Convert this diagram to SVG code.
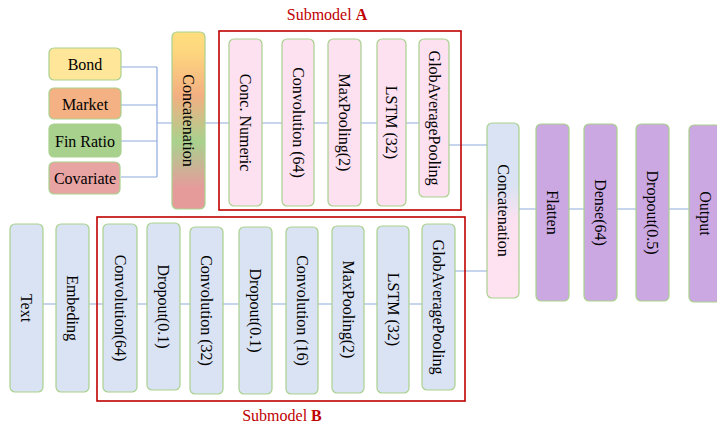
<svg xmlns="http://www.w3.org/2000/svg" width="717" height="428" viewBox="0 0 717 428">
<style>
.t{font-family:"Liberation Serif","Times New Roman",serif;font-size:16px;fill:#000;text-anchor:middle;dominant-baseline:central}
.b{stroke:#A9D18E;stroke-width:1.2}
.pk{fill:#FDE1F0}
.bl{fill:#DAE3F3}
.pu{fill:#CBA8E2}
.c{stroke:#8FAADC;stroke-width:1.2;fill:none}
.red{fill:none;stroke:#C00000;stroke-width:1.6}
.lbl{font-family:"Liberation Serif","Times New Roman",serif;font-size:16px;fill:#C00000;text-anchor:middle}
</style>
<defs>
<linearGradient id="g1" x1="0" y1="0" x2="0" y2="1">
<stop offset="0" stop-color="#FFDF7E"/>
<stop offset="0.12" stop-color="#FDD57E"/>
<stop offset="0.36" stop-color="#F3AF82"/>
<stop offset="0.62" stop-color="#A9D18E"/>
<stop offset="0.88" stop-color="#E69B9B"/>
<stop offset="1" stop-color="#E69B9B"/>
</linearGradient>
<linearGradient id="g2" x1="0" y1="0" x2="0" y2="1">
<stop offset="0" stop-color="#DAE3F3"/>
<stop offset="0.36" stop-color="#DAE3F3"/>
<stop offset="0.56" stop-color="#FDE1F0"/>
<stop offset="1" stop-color="#FFE2F0"/>
</linearGradient>
</defs>
<rect width="717" height="428" fill="#fff"/>

<g id="connectors">
<path class="c" d="M121 67H157M121 105H157M121 141H157M121 177H157M157 67V177M157 123H172"/>
<path class="c" d="M205 123H229M262 123H282M314 123H328M361 123H377M406 123H419M449 145H487"/>
<path class="c" d="M43 304H56M89 304H103M137 304H147M180 304H190M223 304H239M272 304H286M318 304H332M364 304H377M409 304H422M455 271H487"/>
<path class="c" d="M519 209H536M569 209H584M617 209H636M669 209H689"/>
</g>

<g id="submodelA">
<rect class="red" x="219" y="31" width="242" height="179"/>
<text class="lbl" x="327" y="20">Submodel <tspan font-weight="bold">A</tspan></text>
</g>
<g id="submodelB">
<rect class="red" x="97" y="217" width="368" height="184"/>
<text class="lbl" x="282" y="421">Submodel <tspan font-weight="bold">B</tspan></text>
</g>

<g id="bond"><rect class="b" x="49" y="48" width="72" height="32" rx="5" fill="#FFE699"/><text class="t" x="85" y="64">Bond</text></g>
<g id="market"><rect class="b" x="49" y="88" width="72" height="31" rx="5" fill="#F4B183"/><text class="t" x="85" y="104">Market</text></g>
<g id="finratio"><rect class="b" x="49" y="124" width="72" height="33" rx="5" fill="#A9D18E"/><text class="t" x="85" y="141">Fin Ratio</text></g>
<g id="covariate"><rect class="b" x="49" y="162" width="71" height="32" rx="5" fill="#E8A3A3"/><text class="t" x="85" y="178">Covariate</text></g>

<g id="concat1"><rect class="b" x="172" y="32" width="33" height="177" rx="5" fill="url(#g1)"/><text class="t" transform="translate(188.5,120.5) rotate(90)">Concatenation</text></g>

<g id="concnumeric"><rect class="b pk" x="229" y="39" width="33" height="167" rx="5"/><text class="t" transform="translate(245.5,122.5) rotate(90)">Conc. Numeric</text></g>
<g id="convA"><rect class="b pk" x="282" y="39" width="32" height="167" rx="5"/><text class="t" transform="translate(298,122.5) rotate(90)">Convolution (64)</text></g>
<g id="maxpoolA"><rect class="b pk" x="328" y="39" width="33" height="167" rx="5"/><text class="t" transform="translate(344.5,122.5) rotate(90)">MaxPooling(2)</text></g>
<g id="lstmA"><rect class="b pk" x="377" y="39" width="29" height="167" rx="5"/><text class="t" transform="translate(391.5,122.5) rotate(90)">LSTM (32)</text></g>
<g id="globA"><rect class="b pk" x="419" y="39" width="30" height="158" rx="5"/><text class="t" transform="translate(434,118) rotate(90)">GlobAveragePooling</text></g>

<g id="text"><rect class="b bl" x="10" y="224" width="33" height="168" rx="5"/><text class="t" transform="translate(26.5,308) rotate(90)">Text</text></g>
<g id="embeding"><rect class="b bl" x="56" y="224" width="33" height="168" rx="5"/><text class="t" transform="translate(72.5,308) rotate(90)">Embeding</text></g>
<g id="conv64"><rect class="b bl" x="103" y="224" width="34" height="168" rx="5"/><text class="t" transform="translate(120,308) rotate(90)">Convolution(64)</text></g>
<g id="drop1"><rect class="b bl" x="147" y="223" width="33" height="167" rx="5"/><text class="t" transform="translate(163.5,306.5) rotate(90)">Dropout(0.1)</text></g>
<g id="conv32"><rect class="b bl" x="190" y="227" width="33" height="167" rx="5"/><text class="t" transform="translate(206.5,310.5) rotate(90)">Convolution (32)</text></g>
<g id="drop2"><rect class="b bl" x="239" y="227" width="33" height="167" rx="5"/><text class="t" transform="translate(255.5,310.5) rotate(90)">Dropout(0.1)</text></g>
<g id="conv16"><rect class="b bl" x="286" y="227" width="32" height="167" rx="5"/><text class="t" transform="translate(302,310.5) rotate(90)">Convolution (16)</text></g>
<g id="maxpoolB"><rect class="b bl" x="332" y="226" width="32" height="167" rx="5"/><text class="t" transform="translate(348,309.5) rotate(90)">MaxPooling(2)</text></g>
<g id="lstmB"><rect class="b bl" x="377" y="226" width="32" height="167" rx="5"/><text class="t" transform="translate(393,309.5) rotate(90)">LSTM (32)</text></g>
<g id="globB"><rect class="b bl" x="422" y="224" width="33" height="166" rx="5"/><text class="t" transform="translate(438.5,307) rotate(90)">GlobAveragePooling</text></g>

<g id="concat2"><rect class="b" x="487" y="123" width="32" height="175" rx="5" fill="url(#g2)"/><text class="t" transform="translate(503,210.5) rotate(90)">Concatenation</text></g>
<g id="flatten"><rect class="b pu" x="536" y="124" width="33" height="177" rx="5"/><text class="t" transform="translate(552.5,212.5) rotate(90)">Flatten</text></g>
<g id="dense"><rect class="b pu" x="584" y="124" width="33" height="177" rx="5"/><text class="t" transform="translate(600.5,212.5) rotate(90)">Dense(64)</text></g>
<g id="dropout5"><rect class="b pu" x="636" y="124" width="33" height="177" rx="5"/><text class="t" transform="translate(652.5,212.5) rotate(90)">Dropout(0.5)</text></g>
<g id="output"><rect class="b pu" x="689" y="125" width="40" height="177" rx="5"/><text class="t" transform="translate(705.5,213.5) rotate(90)">Output</text></g>
</svg>
